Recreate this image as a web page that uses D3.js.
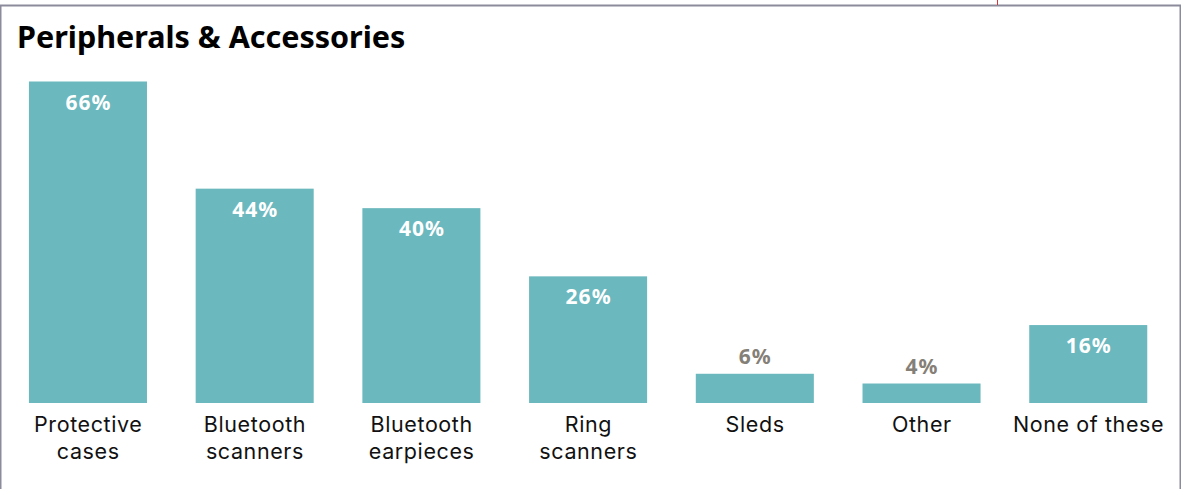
<!DOCTYPE html>
<html>
<head>
<meta charset="utf-8">
<script src="https://cdn.jsdelivr.net/npm/d3@7"></script>
<style>
  html, body { margin: 0; padding: 0; background: #fff; }
  svg { display: block; }
</style>
</head>
<body>
<script>
// Share of respondents using each peripheral / accessory
const categories = [
  ["Protective", "cases"],
  ["Bluetooth", "scanners"],
  ["Bluetooth", "earpieces"],
  ["Ring", "scanners"],
  ["Sleds"],
  ["Other"],
  ["None of these"]
];
const values = [66, 44, 40, 26, 6, 4, 16];
const title = "Peripherals & Accessories";

const W = 1181, H = 489;
const FONT = "'Noto Sans', sans-serif";
const LABEL_FONT = "Inter, 'Noto Sans', sans-serif";
const svg = d3.select("body").append("svg").attr("width", W).attr("height", H);

// frame
svg.append("path")
  .attr("d", `M0.5,${H} V5.5 H1180.5 V${H}`)
  .attr("fill", "none").attr("stroke", "#8b8b9b").attr("stroke-width", 2);
svg.append("line")
  .attr("x1", 997.5).attr("x2", 997.5).attr("y1", 0).attr("y2", 5)
  .attr("stroke", "#e0303a").attr("stroke-width", 1);

svg.append("text")
  .attr("x", 17).attr("y", 48)
  .attr("font-family", FONT)
  .attr("font-weight", 700).attr("font-size", 30.5).attr("fill", "#000")
  .text(title);

const idx = d3.range(values.length);
const x = d3.scaleBand().domain(idx).range([4.6, 1171.6])
  .paddingInner(0.292).paddingOuter(0.146);
const baseline = 403;
const y = d3.scaleLinear().domain([0, 66]).range([baseline, 81.5]);

const g = svg.append("g");
g.selectAll("rect").data(idx).join("rect")
  .attr("x", i => x(i)).attr("width", x.bandwidth())
  .attr("y", i => y(values[i])).attr("height", i => baseline - y(values[i]))
  .attr("fill", "#6bb8be");

// value labels: inside tall bars, above short ones
g.selectAll("text.val").data(idx).join("text")
  .attr("class", "val")
  .attr("x", i => x(i) + x.bandwidth() / 2 + 0.5)
  .attr("y", i => values[i] >= 10 ? y(values[i]) + 28 : y(values[i]) - 9.5)
  .attr("text-anchor", "middle")
  .attr("font-family", FONT)
  .attr("font-weight", 700).attr("font-size", 21)
  .attr("letter-spacing", 1)
  .attr("fill", i => values[i] >= 10 ? "#fff" : "#858077")
  .text(i => values[i] + "%");

// category labels, one text per line
const lines = idx.flatMap(i => categories[i].map((t, k) => ({ t, i, k })));
g.selectAll("text.cat").data(lines).join("text")
  .attr("class", "cat")
  .attr("x", d => x(d.i) + x.bandwidth() / 2 + 0.3)
  .attr("y", d => 432 + d.k * 27)
  .attr("text-anchor", "middle")
  .attr("font-family", LABEL_FONT)
  .attr("font-size", 21.5).attr("letter-spacing", 0.6).attr("fill", "#111")
  .text(d => d.t);
</script>
</body>
</html>
